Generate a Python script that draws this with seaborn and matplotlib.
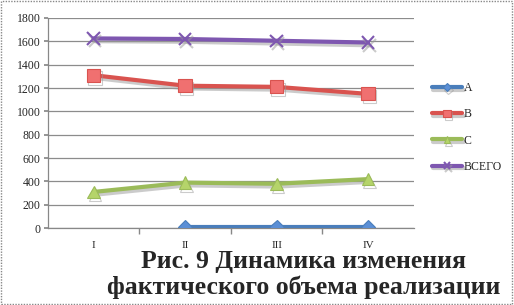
import matplotlib
matplotlib.use("Agg")
import matplotlib.pyplot as plt
import matplotlib.patheffects as pe
import seaborn as sns
import numpy as np
import pandas as pd

categories = ["I", "II", "III", "IV"]
series_names = ["A", "B", "C", "ВСЕГО"]
values_A = [np.nan, 10, 10, 10]
values_B = [1310, 1220, 1210, 1150]
values_C = [310, 390, 380, 420]
values_total = [1625, 1620, 1605, 1590]
y_ticks = [0, 200, 400, 600, 800, 1000, 1200, 1400, 1600, 1800]

sns.set_theme(style="white")
plt.rcParams['font.family'] = ['Liberation Serif', 'DejaVu Serif']

fig = plt.figure(figsize=(5.14, 3.05), dpi=100)
ax = fig.add_axes([0.093, 0.252, 0.712, 0.689])

colors = ["#4a7ebb", "#d9534f", "#9bbb59", "#7e57b0"]
mfc = ["#5b8fd6", "#f07070", "#b5d46a", "#7e57b0"]
markers = ["D", "s", "^", "x"]
msizes = [7.5, 9.5, 9, 9]
all_vals = [values_A, values_B, values_C, values_total]

xpos = list(range(len(categories)))
for name, vals, c, fc, m, ms in zip(series_names, all_vals, colors, mfc, markers, msizes):
    df = pd.DataFrame({"x": xpos, "y": vals})
    sns.lineplot(data=df, x="x", y="y", ax=ax, color=c, linewidth=3,
                 marker=m, markersize=ms, markerfacecolor=fc,
                 markeredgecolor=c, markeredgewidth=1.5 if m == "x" else 0.8,
                 label=name, zorder=3,
                 path_effects=[pe.SimpleLineShadow(offset=(1, -2), shadow_color="#999999", alpha=0.5), pe.Normal()])

ax.set_xlim(-0.5, 3.5)
ax.set_ylim(0, 1800)
ax.set_yticks(y_ticks)
ax.set_yticklabels([str(v) for v in y_ticks], fontsize=8.5)
ax.set_xticks(xpos)
ax.set_xticklabels(categories, fontsize=8)
ax.set_xticks([0.5, 1.5, 2.5], minor=True)
ax.tick_params(axis="x", which="major", length=0, pad=9)
ax.tick_params(axis="x", which="minor", length=4, color="#888888", direction="out", bottom=True)
ax.tick_params(axis="y", length=3, color="#888888", direction="out", left=True, pad=2)
ax.set_xlabel("")
ax.set_ylabel("")
ax.yaxis.grid(True, color="#8c8c8c", linewidth=0.9)
ax.set_axisbelow(True)
for s in ["top", "right"]:
    ax.spines[s].set_visible(False)
ax.spines["left"].set_color("#888888")
ax.spines["bottom"].set_color("#888888")
ax.spines["left"].set_linewidth(0.9)
ax.spines["bottom"].set_linewidth(0.9)

leg = ax.legend(loc="upper left", bbox_to_anchor=(1.02, 0.745), frameon=False,
                fontsize=8.5, handlelength=2.6, labelspacing=1.2, handletextpad=0.1,
                markerscale=0.55)

fig.text(0.59, 0.121, "Рис. 9 Динамика изменения", ha="center", va="baseline",
         fontsize=18.5, fontweight="bold")
fig.text(0.59, 0.037, "фактического объема реализации", ha="center", va="baseline",
         fontsize=18.5, fontweight="bold")

border = plt.Rectangle((0.002, 0.003), 0.995, 0.994, transform=fig.transFigure,
                       fill=False, edgecolor="#888888", linestyle=(0, (1, 1)), linewidth=1)
fig.patches.append(border)

fig.savefig("out.png", dpi=100)
